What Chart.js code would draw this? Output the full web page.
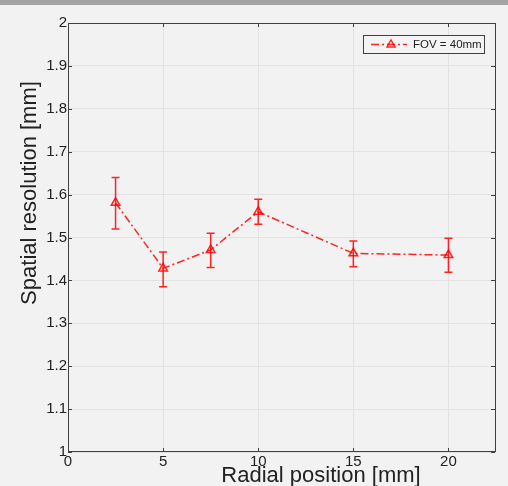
<!DOCTYPE html>
<html>
<head>
<meta charset="utf-8">
<script src="https://cdn.jsdelivr.net/npm/chart.js@4.4.1/dist/chart.umd.min.js"></script>
<style>
html,body{margin:0;padding:0;background:#f2f2f2}
canvas{display:block}
</style>
</head>
<body>
<canvas id="c" width="508" height="486"></canvas>
<script>
// values
const radialPos = [2.5, 5, 7.5, 10, 15, 20]
const resolution = [1.581, 1.428, 1.471, 1.560, 1.463, 1.459]
const errLow = [1.520, 1.385, 1.430, 1.531, 1.432, 1.419]
const errHigh = [1.640, 1.466, 1.510, 1.589, 1.492, 1.498]
const xTicks = [0, 5, 10, 15, 20]
const yTicks = [1, 1.1, 1.2, 1.3, 1.4, 1.5, 1.6, 1.7, 1.8, 1.9, 2]
const seriesLabel = 'FOV = 40mm'
const xTitle = 'Radial position [mm]'
const yTitle = 'Spatial resolution [mm]'

const FONT = '"Liberation Sans", Arial, Helvetica, sans-serif'
const RED = 'rgba(255,0,0,0.85)'
const DASH = [8, 3, 2, 3]

const frame = {
  id: 'frame',
  beforeDraw(chart){
    const {ctx, width} = chart
    ctx.save()
    ctx.fillStyle = '#f2f2f2'
    ctx.fillRect(0, 0, width, chart.height)
    ctx.fillStyle = '#a3a3a3'
    ctx.fillRect(0, 0, width, 5)
    ctx.restore()
  },
  afterDatasetsDraw(chart){
    const {ctx, chartArea:a, scales:{x, y}} = chart
    ctx.save()
    // error bars
    ctx.strokeStyle = RED
    ctx.lineWidth = 1.5
    radialPos.forEach((v, i) => {
      const px = x.getPixelForValue(v)
      const lo = y.getPixelForValue(errLow[i]), hi = y.getPixelForValue(errHigh[i])
      ctx.beginPath()
      ctx.moveTo(px, lo); ctx.lineTo(px, hi)
      ctx.moveTo(px - 4, lo); ctx.lineTo(px + 4, lo)
      ctx.moveTo(px - 4, hi); ctx.lineTo(px + 4, hi)
      ctx.stroke()
    })
    // box and inward ticks
    ctx.strokeStyle = '#404040'
    ctx.lineWidth = 1
    ctx.strokeRect(a.left + 0.5, a.top + 0.5, a.right - a.left - 1, a.bottom - a.top - 1)
    ctx.beginPath()
    xTicks.forEach(v => {
      const px = Math.round(x.getPixelForValue(v)) + 0.5
      ctx.moveTo(px, a.bottom); ctx.lineTo(px, a.bottom - 4)
      ctx.moveTo(px, a.top); ctx.lineTo(px, a.top + 4)
    })
    yTicks.forEach(v => {
      const py = Math.round(y.getPixelForValue(v)) + 0.5
      ctx.moveTo(a.left, py); ctx.lineTo(a.left + 4, py)
      ctx.moveTo(a.right - 1, py); ctx.lineTo(a.right - 5, py)
    })
    ctx.stroke()

    // legend
    ctx.fillStyle = '#f4f4f4'
    ctx.fillRect(363.5, 35.5, 121, 18)
    ctx.strokeStyle = '#404040'
    ctx.strokeRect(363.5, 35.5, 121, 18)
    ctx.strokeStyle = RED
    ctx.lineWidth = 1.5
    ctx.setLineDash(DASH)
    ctx.beginPath(); ctx.moveTo(371, 44.5); ctx.lineTo(407, 44.5); ctx.stroke()
    ctx.setLineDash([])
    ctx.beginPath()
    ctx.moveTo(391, 40); ctx.lineTo(395, 47); ctx.lineTo(387, 47); ctx.closePath()
    ctx.stroke()
    ctx.fillStyle = '#222'
    ctx.font = '11.5px ' + FONT
    ctx.textBaseline = 'middle'
    ctx.textAlign = 'left'
    ctx.fillText(chart.data.datasets[0].label, 413, 45)

    // axis titles
    ctx.font = '22px ' + FONT
    ctx.textAlign = 'center'
    ctx.fillText(xTitle, 321, 476)
    ctx.translate(30, 193)
    ctx.rotate(-Math.PI / 2)
    ctx.font = '22px ' + FONT
    ctx.fillText(yTitle, 0, 0)
    ctx.restore()
  }
}

new Chart(document.getElementById('c'), {
  type: 'scatter',
  data: {
    datasets: [{
      label: seriesLabel,
      data: radialPos.map((v, i) => ({x: v, y: resolution[i]})),
      showLine: true,
      borderColor: RED,
      borderWidth: 1.5,
      borderDash: DASH,
      pointStyle: 'triangle',
      pointRadius: 5,
      pointBorderWidth: 1.5,
      pointBorderColor: RED,
      pointBackgroundColor: 'rgba(0,0,0,0)'
    }]
  },
  options: {
    responsive: false,
    animation: false,
    layout: {padding: {top: 23, right: 12, left: 0, bottom: 0}},
    plugins: {legend: {display: false}, tooltip: {enabled: false}},
    scales: {
      x: {
        type: 'linear', min: 0, max: 22.5,
        afterBuildTicks: s => { s.ticks = xTicks.map(v => ({value: v})) },
        afterFit: s => { s.height = 34 },
        grid: {color: '#e2e2e2', drawTicks: false},
        border: {display: false},
        ticks: {padding: 1, color: '#222', font: {family: FONT, size: 15}, maxRotation: 0}
      },
      y: {
        type: 'linear', min: 1, max: 2,
        afterBuildTicks: s => { s.ticks = yTicks.map(v => ({value: v})) },
        afterFit: s => { s.width = 68 },
        grid: {color: '#e2e2e2', drawTicks: false},
        border: {display: false},
        ticks: {padding: 1, color: '#222', font: {family: FONT, size: 15},
          callback: v => String(+(+v).toFixed(1))}
      }
    }
  },
  plugins: [frame]
})
</script>
</body>
</html>
